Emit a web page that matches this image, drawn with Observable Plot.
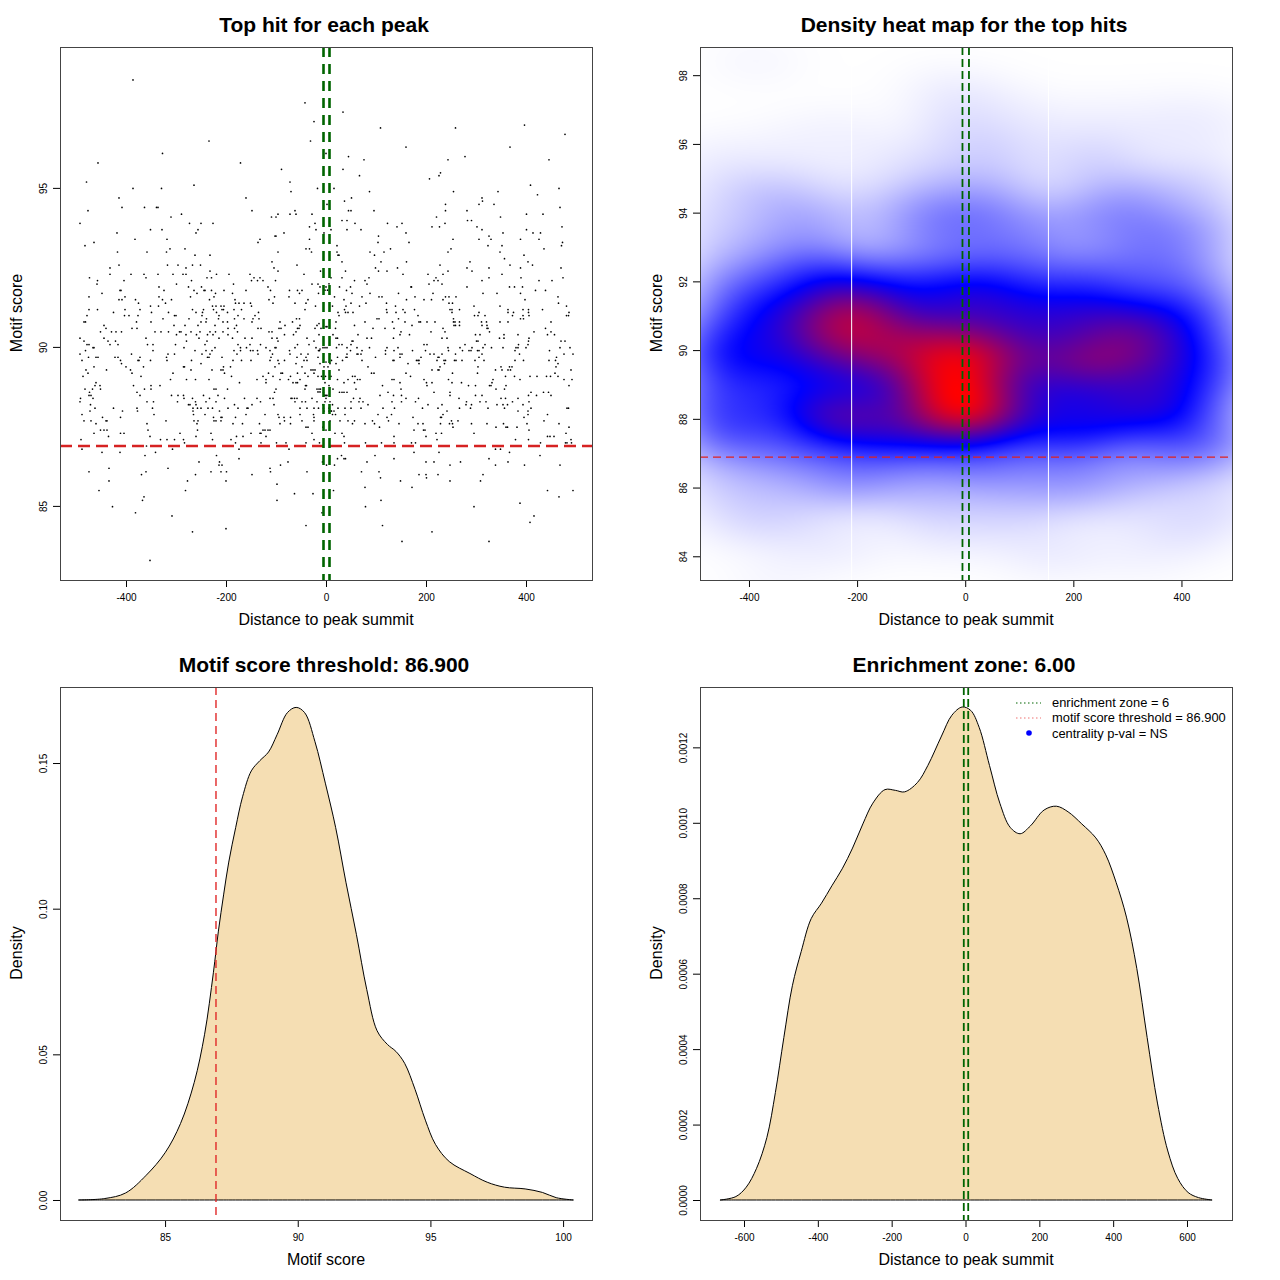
<!DOCTYPE html>
<html><head><meta charset="utf-8">
<script src="https://cdn.jsdelivr.net/npm/d3@7"></script>
<script src="https://cdn.jsdelivr.net/npm/@observablehq/plot@0.6"></script>
<style>
body{margin:0;background:#fff;font-family:"Liberation Sans",Arial,Helvetica,sans-serif;}
#root{position:relative;width:1280px;height:1280px;overflow:hidden;background:#fff}
.panel{position:absolute;width:640px;height:640px}
.panel svg{position:absolute;left:0;top:0}
.title{position:absolute;top:25px;left:324px;transform:translate(-50%,-50%);font-weight:bold;font-size:21px;white-space:nowrap}
.xlab{position:absolute;top:620px;left:326px;transform:translate(-50%,-50%);font-size:16px;white-space:nowrap}
.ylab{position:absolute;top:313px;left:17px;transform:translate(-50%,-50%) rotate(-90deg);font-size:16px;white-space:nowrap}
.legend{position:absolute;left:370px;top:55px;font-size:12.9px;line-height:15.3px}
.legend div{display:flex;align-items:center;height:15.3px}
.legend svg{position:static;width:42px;height:10px}
</style></head><body><div id="root"></div>
<script>
// ---------- data ----------
const enrichmentZone = 6;
const scoreThreshold = 86.9;
// scatter: [motif score, [distances to peak summit]]
const scatterRows = [
[98.41,[-387]],[97.69,[-43]],[97.4,[33]],[97.1,[-25]],[96.99,[396]],[96.9,[108,258]],[96.7,[477]],
[96.49,[-235,-32,7]],[96.3,[159,367]],[96.1,[-328,-1]],[96.0,[44,277]],[95.9,[75,243,445]],
[95.8,[-457,-172]],[95.6,[-90,33]],[95.49,[228]],[95.4,[66,225]],[95.3,[206]],[95.2,[-480,-73]],
[95.1,[-265,408]],[95.0,[-387,-330,-18,15,465]],[94.9,[-71,86,254,343]],[94.8,[422]],
[94.7,[-415,-161,50,311]],[94.6,[36,312]],[94.5,[1,238,305,335]],[94.4,[-409,-364,-340,-337,467]],
[94.3,[-477,-149,-63,44,49,95,238,281]],[94.19,[-290,-97,-73,-61,-29,400,433]],
[94.1,[-311,-110,-101,220,348]],[93.99,[31,41,282,290]],
[93.9,[-493,-274,-251,-227,-23,57,122,151,237]],[93.79,[-34,141,211,226,301,471]],
[93.7,[-352,-329,-257,-21,9,41,69,311,400]],[93.6,[-419,-261,-85,-5,159,353,413,428]],
[93.5,[-103,-101,104,325]],[93.4,[-383,-319,-133,-34,253,305,329,388,425]],
[93.3,[-465,-137,103,165,472]],[93.2,[-483,21,323,351,470]],[93.1,[-313,-283,-41,-34,128,249,435]],
[93.0,[-418,-359,-320,-97,-30,21,87,115,243,347]],[92.9,[-263,-233,23,25,96,395]],[92.79,[356]],
[92.69,[-109,31,109,160,287,403]],[92.59,[-415,-318,-297,-268,-252,-59,227,367,412]],
[92.5,[-433,-281,-105,98,142,281,325,388,469]],[92.4,[-233,-97,-12,38,104,121,243,291]],
[92.3,[-433,-391,-365,-337,-307,-287,-281,-220,-195,-153,-45,153,203,233,351]],
[92.19,[-474,-361,-239,-230,-145,-133,9,31,85,219,325,389,473]],
[92.1,[-458,-405,-270,-150,-138,-127,-102,56,77,215,223,311,425,451]],
[92.0,[5]],
[91.99,[-459,-300,-186,-29,-17,81,205,231]],
[91.9,[-335,-276,-250,-117,-13,-1,26,48,169,170,281,366,376,392]],
[91.8,[-3,2]],
[91.79,[-413,-411,-325,-265,-245,-243,-230,-205,-161,-112,-74,-58,-49,40,418,438]],
[91.7,[-449,-259,-222,-188,-54,-16,51,87,144,213,313,341,388]],
[91.59,[-475,-403,-335,-272,-225,-104,-75,16,71,105,111,177,238,245,259,463]],
[91.5,[-415,-409,-382,-328,-310,-234,-183,-115,-37,35,160,195,210,233,397]],
[91.39,[-376,-322,-182,-175,-165,-152,-107,-63,-41,49,79,120,245,252,464]],
[91.3,[-352,-336,-228,-221,-211,-205,-150,-22,12,39,66,138,295,347,480]],
[91.19,[-475,-458,-403,-373,-268,-246,-226,-209,-206,-185,-170,-43,36,120,153,176,247,251,266,363,393,404,432]],
[91.1,[-426,-350,-316,-261,-248,-220,-198,-136,23,38,43,53,121,139,157,251,305,363,374,404,485]],
[91.0,[-479,-404,-395,-377,-304,-301,-249,-215,-177,-143,25,183,296,303,317,372,393,405,480,484]],
[90.9,[-327,-275,-240,-216,-184,-165,-147,-135,-60,-54,101,105,144,254,388,394]],
[90.8,[-485,-482,-380,-351,-251,-241,-207,-198,-149,-93,-68,19,77,132,157,185,188,201,217,254,257,266,310,320,347,363,449]],
[90.75,[-15]],
[90.69,[-445,-305,-283,-257,-223,-180,-83,-53,-19,56,171,255,258,266,311,321]],
[90.65,[-1,1]],
[90.6,[-441,-389,-379,-197,-184,-137,-131,-95,-91,-58,-55,-23,-11,18,93,117,135,233,321,323,438]],
[90.49,[-452,-430,-421,-410,-343,-331,-316,-294,-291,-271,-253,-233,-222,-207,-178,-115,-109,-61,149,209,237,326,415,449]],
[90.4,[-300,-281,-260,-238,-227,-197,-84,-66,-15,13,63,147,166,298,307,355,383,442,456]],
[90.29,[-493,-445,-361,-255,-215,-188,-163,-149,-109,-99,-39,19,22,81,90,134,231,241,346,355,405]],
[90.2,[-485,-437,-422,-280,-239,-97,-25,51,53,300,303,404,469,477]],
[90.09,[-479,-475,-433,-417,-358,-347,-302,-243,-177,-153,-132,-58,-35,25,31,49,195,201,277,317,384,403]],
[89.99,[-467,-465,-285,-223,-172,-160,-121,-103,-101,-63,-21,-7,-3,1,20,41,61,86,121,143,243,267,291,313,330,353,379,383,399,467,487]],
[89.95,[-13]],
[89.9,[-482,-347,-263,-241,-229,-185,-172,-152,-147,-138,-113,-74,-16,-14,48,71,118,135,172,198,244,272,285,289,302,305,377,446]],
[89.79,[-493,-390,-317,-304,-249,-233,-179,-137,-108,-73,-51,-37,7,41,61,63,69,118,147,151,207,215,231,258,311,386,475,493]],
[89.69,[-476,-461,-457,-423,-417,-373,-320,-238,-235,-209,-111,-59,-41,-17,22,39,41,98,147,189,223,225,305,460]],
[89.59,[-489,-412,-377,-375,-352,-319,-270,-187,-170,-151,-113,-97,-84,-45,-39,10,32,71,133,135,180,183,185,221,235,238,256,259,271,297,315,377,394,445,458]],
[89.54,[-1]],
[89.49,[-410,-251,-95,-61,-13,7,19,163,185,236,463]],
[89.39,[-465,-401,-366,-286,-284,-206,-192,-103,-49,-5,3,83,227,303,349,366,371,459]],
[89.29,[-481,-440,-392,-271,-229,-211,-207,-31,-27,-23,25,211,223,225,338,351,363,368,489]],
[89.19,[-477,-389,-307,-204,-116,-91,-88,-58,-43,-25,90,95,159,252,302,457]],
[89.09,[-487,-371,-190,-127,-107,-72,-37,-17,-10,-2,9,52,57,168,358,376,407,421,440,448,463]],
[88.99,[-312,-280,-262,-235,-139,-121,-93,-76,-53,22,43,62,67,131,135,195,244,333,387,475,491]],
[88.89,[-461,-174,-121,-67,-61,-58,-3,35,56,147,200,211,251,270,331]],
[88.8,[-463,-453,-386,-351,-333,-42,-40,5,112,201,284,298,326,329,359,485]],
[88.69,[-483,-468,-452,-364,-351,-225,-221,-198,-101,-43,-19,-15,-12,13,59,149,339,356]],
[88.6,[-17,-13]],
[88.59,[-474,-379,-104,-6,26,31,35,41,123,215,247,409,434,444]],
[88.49,[-475,-471,-373,-310,-297,-286,-246,-217,-5,-3,-1,1,107,134,150,247,298,311,404,420,449]],
[88.4,[-492,-467,-285,-268,-234,-204,-164,-139,-113,-107,-71,-69,-64,-59,-29,-1,54,67,159,184,265,349,358,383]],
[88.29,[-493,-359,-346,-298,-262,-241,-221,-132,-63,-49,-42,-19,-3,7,49,65,73,131,150,178,280,307,319,372,405]],
[88.2,[-472,-276,-273,-261,-184,-149,-105,-7,12,83,203,231,279,290,341,353,362,393]],
[88.09,[-463,-426,-379,-348,-267,-258,-251,-237,-228,-197,-177,-159,-157,-53,-39,-25,-16,-6,5,23,37,49,69,113,136,192,223,266,288,323,356,409,481,484]],
[88.0,[-473,-408,-378,-267,-214,-5,5,9,10,15,241,383,403]],
[87.89,[-489,-345,-266,-243,-161,-123,-97,-53,-26,12,18,37,103,130,233,403,442]],
[87.8,[-448,-412,-226,-211,-209,-182,-95,-85,-72,-25,121,173,228,230,395]],
[87.69,[-485,-471,-441,-439,-321,-265,-257,-225,-221,-211,-84,-49,-25,7,27,43,56,92,124,250,263,435]],
[87.6,[-461,-359,-259,-187,-168,-134,-93,-72,52,77,96,145,183,193,228,246,252,290,321,354,401,465]],
[87.49,[-41,-37,-7,106,253,339,359,362,381,485]],
[87.4,[-452,-445,-439,-357,-258,-127,-123,-117,-113,-1,175,194,197,405]],
[87.3,[-465,-412,-405,-293,-231,-151,-133,-131,-29,17,31,219,230,295,479]],
[87.2,[-436,-353,-261,-180,-167,-121,35,135,199,442,447,455]],
[87.1,[-491,-332,-319,-304,-286,-228,-191,-25,221,378,404,489]],
[87.0,[-284,-182,-131,-100,-81,-41,-14,36,78,110,135,170,178,428,478,481,490]],
[86.9,[-360]],[86.8,[-489,-308,-175,-75,338,348]],[86.7,[-449,-413,-342,175,225,366]],
[86.6,[-363,-220,30,97,427]],[86.5,[-175,22,35,38,135,325]],[86.4,[-255,-214,-77,-8,81,199,215,268,363]],
[86.3,[-215,-209,-92,0,16,247,338,396,467]],[86.2,[-435,-317,-113]],
[86.09,[-475,-361,-231,-211,-200,-112,-39,70,105]],[86.0,[-370,-262,-149,185,199,223,313]],
[85.9,[108,200]],[85.8,[-435,-278,-201,148,247,308]],[85.7,[-99]],[85.6,[77,171]],
[85.5,[-455,-282,14,442,493]],[85.4,[-64,-27]],[85.3,[-365,465]],[85.19,[-368,-99,109]],
[85.1,[387]],[84.99,[-428,78,295]],[84.8,[-382,-9]],[84.7,[-309,415]],[84.5,[407]],
[84.4,[-41,112]],[84.3,[-201]],[84.2,[-268,211]],[83.9,[151,325]],[83.3,[-353]]
];
// density of motif score (panel 3)
const scoreX = [81.75,82.73,83.51,84.29,85.0,85.58,86.1,86.49,86.82,87.01,87.21,87.4,87.66,87.92,88.25,88.57,88.9,89.22,89.61,89.94,90.26,90.65,91.04,91.43,91.82,92.21,92.6,92.99,93.38,93.7,94.03,94.42,94.81,95.19,95.71,96.49,97.14,97.79,98.57,99.22,99.74,100.39];
const scoreDensity = [0,0.0005,0.0024,0.0085,0.0162,0.0262,0.0404,0.0569,0.078,0.0923,0.105,0.116,0.1278,0.1384,0.1473,0.1508,0.1538,0.1597,0.1673,0.1691,0.1673,0.1573,0.1431,0.1278,0.1089,0.0912,0.0723,0.0581,0.0534,0.051,0.0469,0.038,0.0274,0.0191,0.0132,0.0091,0.0061,0.0044,0.0038,0.0026,0.0008,0];
// density of distance to summit (panel 4)
const distX = [-664,-622,-594,-566,-538,-515,-492,-469,-445,-418,-390,-362,-334,-306,-278,-251,-218,-190,-165,-130,-102,-65,-37,-9,14,37,65,93,121,148,176,213,246,278,315,353,380,408,436,464,492,520,548,575,603,631,668];
const distDensity = [0,0.0000091,0.000034,0.000084,0.000166,0.000285,0.000431,0.000568,0.000659,0.000746,0.000787,0.000833,0.000878,0.000933,0.000997,0.001052,0.001088,0.001086,0.001082,0.001107,0.001152,0.00123,0.001285,0.001307,0.001298,0.001253,0.001152,0.001052,0.000988,0.000971,0.000992,0.001034,0.001044,0.001029,0.000997,0.00096,0.000915,0.000842,0.00075,0.000614,0.000431,0.000257,0.00013,0.000057,0.00002,0.0000064,0];
// heat map extent and image gap positions seen in the reference
const heatXDomain = [-491, 494];
const heatYDomain = [83.31, 98.82];
const heatGaps = [-211, 153];
// axis ticks
const p1XTicks = [-400,-200,0,200,400], p1YTicks = [85,90,95];
const p2XTicks = [-400,-200,0,200,400], p2YTicks = [84,86,88,90,92,94,96,98];
const p3XTicks = [85,90,95,100], p3YTicks = [0,0.05,0.10,0.15];
const p4XTicks = [-600,-400,-200,0,200,400,600], p4YTicks = [0,0.0002,0.0004,0.0006,0.0008,0.0010,0.0012];
const titles = ["Top hit for each peak","Density heat map for the top hits","Motif score threshold: 86.900","Enrichment zone: 6.00"];
const legendItems = ["enrichment zone = 6","motif score threshold = 86.900","centrality p-val = NS"];

// ---------- build ----------
const pts = scatterRows.flatMap(([y, xs]) => xs.map(x => ({x, y})));
const scoreCurve = scoreX.map((x, i) => ({x, y: scoreDensity[i]}));
const distCurve = distX.map((x, i) => ({x, y: distDensity[i]}));

// 2D kernel density (like MASS::kde2d with bandwidth.nrd)
function bwNrd(v){ const s=d3.deviation(v); const q=d3.quantile(v,0.75)-d3.quantile(v,0.25); return 4*1.06*Math.min(s,q/1.34)*Math.pow(v.length,-0.2); }
const hx = bwNrd(pts.map(d=>d.x))/4, hy = bwNrd(pts.map(d=>d.y))/4;
const NX=160, NY=160, n=pts.length;
const gx = d3.range(NX).map(i=>heatXDomain[0]+(heatXDomain[1]-heatXDomain[0])*i/(NX-1));
const gy = d3.range(NY).map(j=>heatYDomain[0]+(heatYDomain[1]-heatYDomain[0])*j/(NY-1));
const A = gx.map(g=>{const a=new Float64Array(n); for(let k=0;k<n;k++){const t=(g-pts[k].x)/hx; a[k]=Math.exp(-0.5*t*t);} return a;});
const B = gy.map(g=>{const b=new Float64Array(n); for(let k=0;k<n;k++){const t=(g-pts[k].y)/hy; b[k]=Math.exp(-0.5*t*t);} return b;});
const Z = new Float64Array(NX*NY); let zmax=0;
for(let j=0;j<NY;j++){const b=B[j]; for(let i=0;i<NX;i++){const a=A[i]; let s=0; for(let k=0;k<n;k++) s+=a[k]*b[k]; Z[j*NX+i]=s; if(s>zmax) zmax=s;}}
function sample(x,y){
  let fi=(x-heatXDomain[0])/(heatXDomain[1]-heatXDomain[0])*(NX-1);
  let fj=(y-heatYDomain[0])/(heatYDomain[1]-heatYDomain[0])*(NY-1);
  fi=Math.max(0,Math.min(NX-1.0001,fi)); fj=Math.max(0,Math.min(NY-1.0001,fj));
  const i=Math.floor(fi), j=Math.floor(fj), u=fi-i, v=fj-j;
  const z00=Z[j*NX+i], z10=Z[j*NX+i+1], z01=Z[(j+1)*NX+i], z11=Z[(j+1)*NX+i+1];
  return (z00*(1-u)+z10*u)*(1-v)+(z01*(1-u)+z11*u)*v;
}

const fmtInt = d => String(d);
function base(o){
  return Object.assign({width:640,height:620,marginLeft:60,marginRight:48,marginTop:47,marginBottom:40,
    style:{fontFamily:"Liberation Sans, Arial, sans-serif",fontSize:"10px",background:"transparent",color:"black",overflow:"visible"}}, o);
}
function axes(xt, yt, xf, yf){
  return [
    Plot.axisX({ticks:xt, tickSize:7, tickPadding:6, tickFormat:xf, label:null}),
    Plot.axisY({ticks:yt, tickSize:7, tickPadding:7, tickRotate:-90, tickFormat:yf, label:null}),
    Plot.frame({stroke:"#444", strokeWidth:1})
  ];
}

const p1 = Plot.plot(base({
  x:{domain:[-532,532]}, y:{domain:[82.67,99.43]},
  marks:[
    Plot.dot(pts,{x:"x",y:"y",r:0.85,fill:"black",stroke:null}),
    Plot.ruleY([scoreThreshold],{stroke:"#d62222",strokeWidth:2.5,strokeDasharray:"12,6"}),
    Plot.ruleX([-enrichmentZone,enrichmentZone],{stroke:"#006400",strokeWidth:2.6,strokeDasharray:"10,7"}),
    ...axes(p1XTicks,p1YTicks,fmtInt,fmtInt)
  ]}));

const p2 = Plot.plot(base({
  x:{domain:[-490.6,493.5]}, y:{domain:heatYDomain},
  color:{type:"linear",domain:[0,zmax/2,zmax],range:["white","blue","red"],interpolate:"rgb"},
  marks:[
    Plot.raster({x1:heatXDomain[0],x2:heatXDomain[1],y1:heatYDomain[0],y2:heatYDomain[1],fill:(x,y)=>sample(x,y),pixelSize:1}),
    Plot.ruleX(heatGaps,{stroke:"white",strokeWidth:1}),
    Plot.ruleY([scoreThreshold],{stroke:"#e02020",strokeWidth:1.3,strokeDasharray:"8,5"}),
    Plot.ruleX([-enrichmentZone,enrichmentZone],{stroke:"#006400",strokeWidth:1.8,strokeDasharray:"8,4"}),
    ...axes(p2XTicks,p2YTicks,fmtInt,fmtInt)
  ]}));

const p3 = Plot.plot(base({
  x:{domain:[81.04,101.09]}, y:{domain:[-0.00687,0.1761]},
  marks:[
    Plot.areaY(scoreCurve,{x:"x",y:"y",fill:"#F5DEB3",stroke:"black",strokeWidth:1,curve:"catmull-rom"}),
    Plot.ruleX([scoreThreshold],{stroke:"#e02828",strokeWidth:1.4,strokeDasharray:"8,5"}),
    ...axes(p3XTicks,p3YTicks,fmtInt,d=>d.toFixed(2))
  ]}));

const p4 = Plot.plot(base({
  x:{domain:[-719.2,721.9]}, y:{domain:[-0.000053,0.00136]},
  marks:[
    Plot.areaY(distCurve,{x:"x",y:"y",fill:"#F5DEB3",stroke:"black",strokeWidth:1,curve:"catmull-rom"}),
    Plot.ruleX([-enrichmentZone,enrichmentZone],{stroke:"#006400",strokeWidth:1.8,strokeDasharray:"8,4"}),
    ...axes(p4XTicks,p4YTicks,fmtInt,d=>d.toFixed(4))
  ]}));

const root = document.getElementById("root");
const plots = [p1,p2,p3,p4];
const xlabs = ["Distance to peak summit","Distance to peak summit","Motif score","Distance to peak summit"];
const ylabs = ["Motif score","Motif score","Density","Density"];
plots.forEach((p,i)=>{
  const d = document.createElement("div");
  d.className="panel"; d.style.left=(i%2)*640+"px"; d.style.top=Math.floor(i/2)*640+"px";
  d.appendChild(p);
  const t=document.createElement("div"); t.className="title"; t.textContent=titles[i]; d.appendChild(t);
  const xl=document.createElement("div"); xl.className="xlab"; xl.textContent=xlabs[i]; d.appendChild(xl);
  const yl=document.createElement("div"); yl.className="ylab"; yl.textContent=ylabs[i]; d.appendChild(yl);
  if(i===3){
    const lg=document.createElement("div"); lg.className="legend";
    const samples=[
      '<svg><line x1="6" x2="31" y1="5" y2="5" stroke="#006400" stroke-width="1" stroke-dasharray="1.5,2.5"/></svg>',
      '<svg><line x1="6" x2="31" y1="5" y2="5" stroke="#ee7070" stroke-width="1" stroke-dasharray="1.5,2.5"/></svg>',
      '<svg><circle cx="19" cy="5" r="2.8" fill="blue"/></svg>'
    ];
    lg.innerHTML = legendItems.map((s,k)=>'<div>'+samples[k]+'<span>'+s+'</span></div>').join("");
    d.appendChild(lg);
  }
  root.appendChild(d);
});
</script></body></html>
